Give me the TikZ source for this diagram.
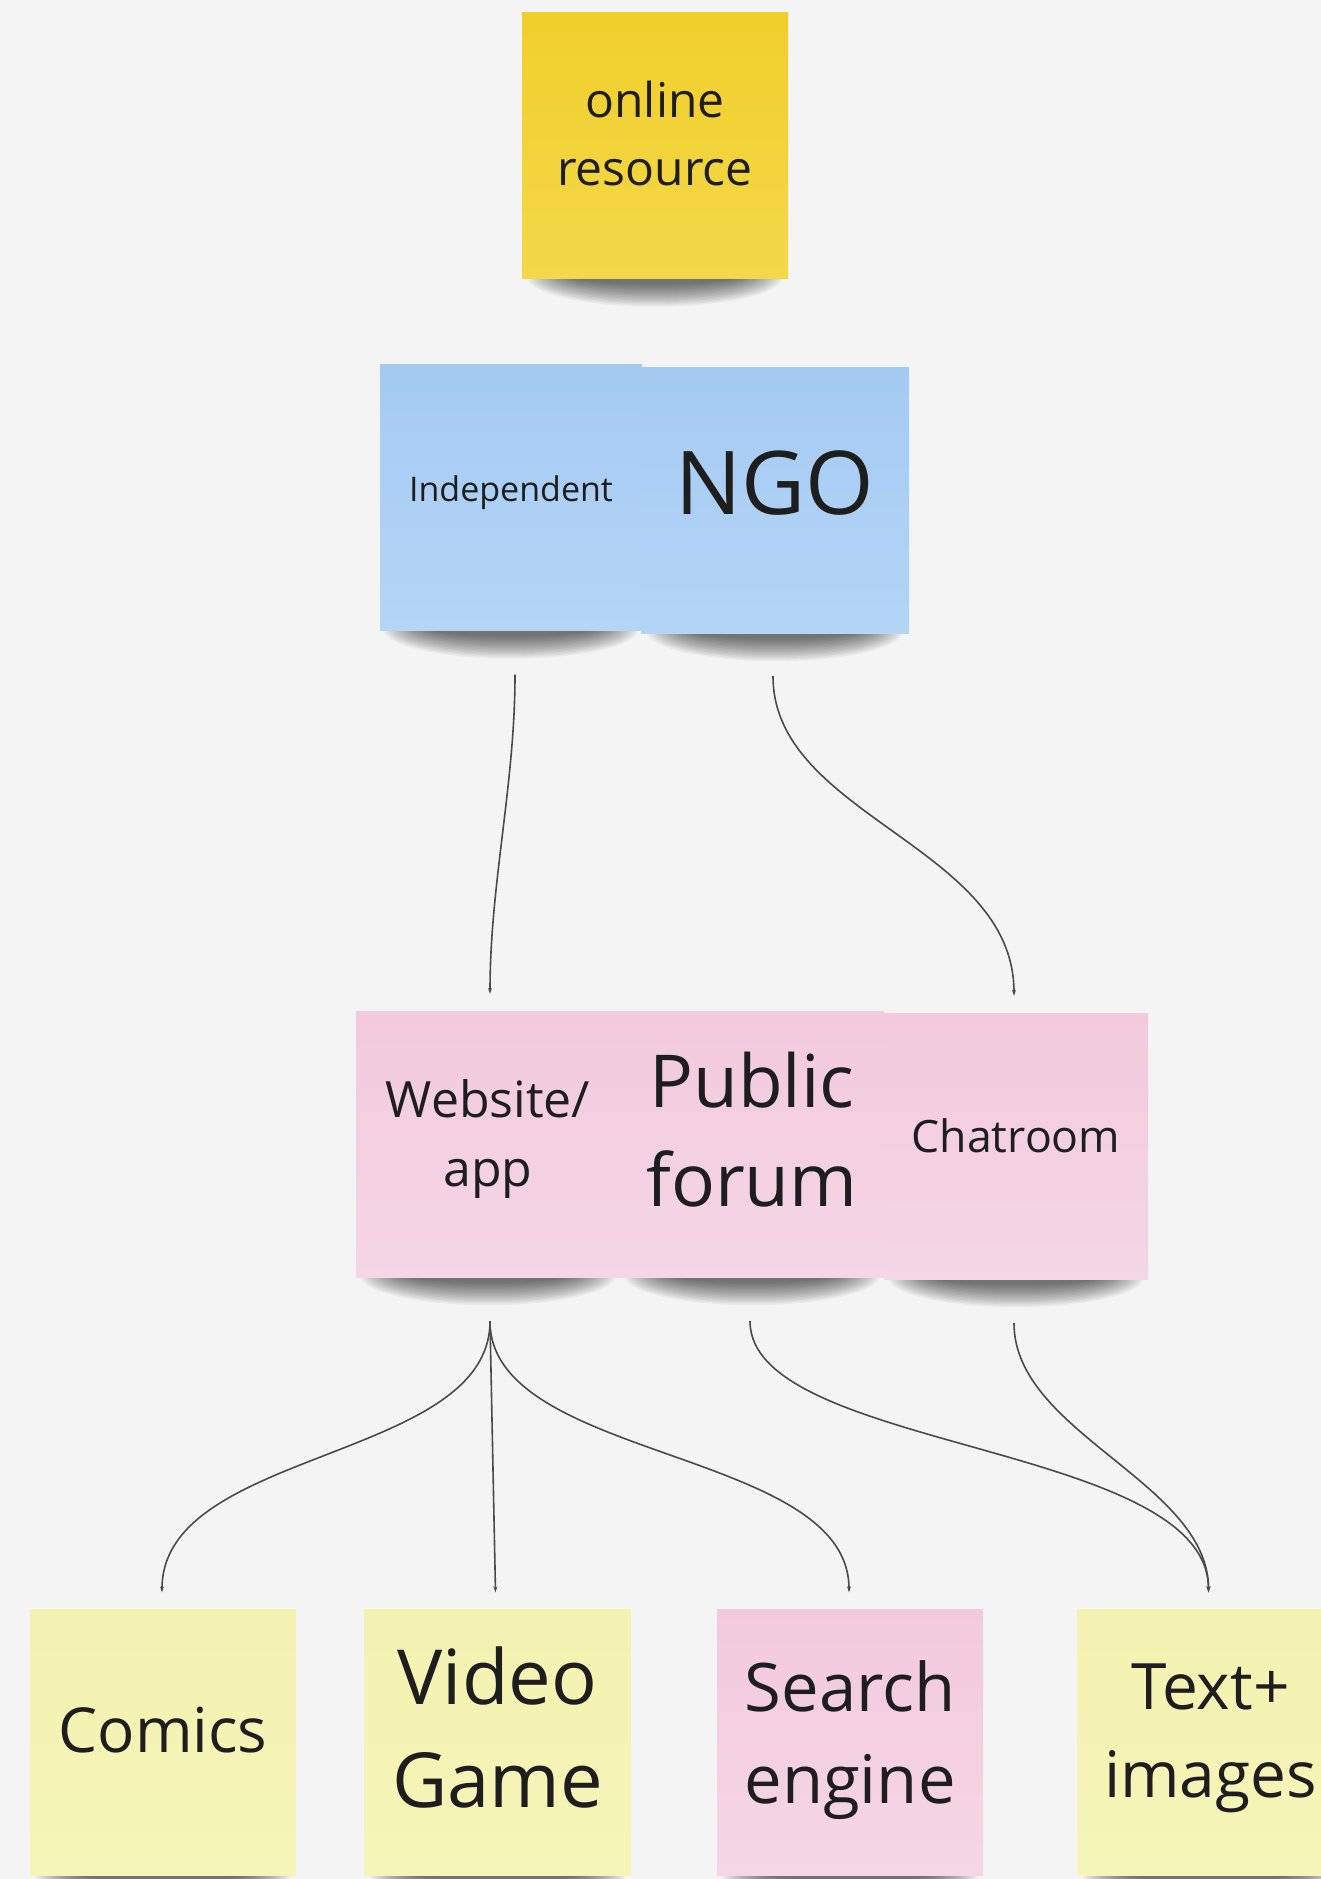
\documentclass[tikz,border=0pt]{standalone}
\usepackage{fontspec}
\setmainfont{Open Sans}
\usetikzlibrary{arrows.meta,calc}
\definecolor{bg}{HTML}{F4F4F4}
\definecolor{ytop}{HTML}{F0CE2B}
\definecolor{ybot}{HTML}{F3D849}
\definecolor{btop}{HTML}{A5CAF2}
\definecolor{bbot}{HTML}{B3D5F6}
\definecolor{ptop}{HTML}{F3CADD}
\definecolor{pbot}{HTML}{F4D6E5}
\definecolor{lytop}{HTML}{F4F2B1}
\definecolor{lybot}{HTML}{F5F5B9}
\definecolor{ink}{HTML}{1E1E1E}
\definecolor{wire}{HTML}{4A4A4A}
\tikzset{
  sticky/.style={minimum width=266pt, minimum height=266pt, inner sep=0pt, draw=none},
  yel/.style={sticky, top color=ytop, bottom color=ybot},
  blu/.style={sticky, top color=btop, bottom color=bbot},
  pnk/.style={sticky, top color=ptop, bottom color=pbot},
  lyl/.style={sticky, top color=lytop, bottom color=lybot},
  lbl/.style={align=center, text=ink, inner sep=0pt},
  wireline/.style={draw=wire, line width=1.6pt, -{Stealth[length=6pt,width=4pt]}},
}
\newcommand{\stickyshadow}[1]{%
  \foreach \i in {0,...,15}{%
    \fill[black, opacity=0.045] ($(#1.south)+(0,-2)$) ellipse [x radius={128-\i*3}, y radius={30-\i*1.5}];
  }%
}
\begin{document}
\begin{tikzpicture}[x=1pt,y=-1pt]
\fill[bg] (0,0) rectangle (1321,1879);
\useasboundingbox (0,0) rectangle (1321,1879);

% sticky positions (named, empty first so shadows can be drawn beneath)
\path (655,145.5) node[sticky] (online) {};
\path (511,497.5) node[sticky, minimum width=262pt] (indep) {};
\path (775,500) node[sticky, minimum width=268pt] (ngo) {};
\path (488,1144) node[sticky, minimum width=264pt] (web) {};
\path (752,1144) node[sticky, minimum width=264pt] (forum) {};
\path (1016,1146) node[sticky, minimum width=264pt] (chat) {};
\path (163,1742.5) node[sticky] (comics) {};
\path (497.5,1742.5) node[sticky] (video) {};
\path (850,1742.5) node[sticky] (search) {};
\path (1210.5,1742.5) node[sticky] (textimg) {};

% shadows
\stickyshadow{online}
\stickyshadow{indep}
\stickyshadow{ngo}
\stickyshadow{web}
\stickyshadow{forum}
\stickyshadow{chat}
\stickyshadow{comics}
\stickyshadow{video}
\stickyshadow{search}
\stickyshadow{textimg}

% sticky fills
\node[yel] at (online) {};
\node[blu, minimum width=262pt] at (indep) {};
\node[blu, minimum width=268pt] at (ngo) {};
\node[pnk, minimum width=264pt] at (web) {};
\node[pnk, minimum width=264pt] at (forum) {};
\node[pnk, minimum width=264pt] at (chat) {};
\node[lyl] at (comics) {};
\node[lyl] at (video) {};
\node[pnk] at (search) {};
\node[lyl] at (textimg) {};

% texts
\node[lbl, font=\fontsize{48}{68}\selectfont] (t-online) at ([yshift=12pt]online.center) {online\\resource};
\node[lbl, font=\fontsize{34}{44}\selectfont] (t-indep) at ([yshift=5pt]indep.center) {Independent};
\node[lbl, font=\fontsize{88}{110}\selectfont] (t-ngo) at ([yshift=17pt]ngo.center) {NGO};
\node[lbl, font=\fontsize{50}{69}\selectfont] (t-web) at ([yshift=5pt]web.center) {Website/\\app};
\node[lbl, font=\fontsize{73}{99}\selectfont] (t-forum) at ([yshift=14pt]forum.center) {Public\\forum};
\node[lbl, font=\fontsize{44.6}{60}\selectfont] (t-chat) at ([yshift=10pt]chat.center) {Chatroom};
\node[lbl, font=\fontsize{62}{84}\selectfont] (t-comics) at ([yshift=12pt]comics.center) {Comics};
\node[lbl, font=\fontsize{76}{103}\selectfont] (t-video) at ([yshift=15pt]video.center) {Video\\Game};
\node[lbl, font=\fontsize{67}{92}\selectfont] (t-search) at ([yshift=2pt]search.center) {Search\\engine};
\node[lbl, font=\fontsize{64}{87.5}\selectfont] (t-textimg) at ([yshift=4pt]textimg.center) {Text+\\images};

% connector end points
\coordinate (indep-out) at ([yshift=-44pt, xshift=4pt]indep.south);
\coordinate (ngo-out) at ([yshift=-43pt, xshift=-2pt]ngo.south);
\coordinate (web-in) at ([yshift=17pt, xshift=2pt]web.north);
\coordinate (chat-in) at ([yshift=17pt, xshift=-2pt]chat.north);
\coordinate (web-out) at ([yshift=-44pt, xshift=2pt]web.south);
\coordinate (forum-out) at ([yshift=-44pt, xshift=-2pt]forum.south);
\coordinate (chat-out) at ([yshift=-44pt, xshift=-2pt]chat.south);
\coordinate (comics-in) at ([yshift=17pt, xshift=-1pt]comics.north);
\coordinate (video-in) at ([yshift=17pt, xshift=-2pt]video.north);
\coordinate (search-in) at ([yshift=17pt, xshift=-1pt]search.north);
\coordinate (textimg-in) at ([yshift=17pt, xshift=-2pt]textimg.north);

% connectors
\draw[wireline] (indep-out) .. controls +(0,110) and +(0,-110) .. (web-in);
\draw[wireline] (ngo-out) .. controls +(0,140) and +(0,-150) .. (chat-in);
\draw[wireline] (web-out) .. controls +(0,140) and +(0,-144) .. (comics-in);
\draw[wireline] (web-out) -- (video-in);
\draw[wireline] (web-out) .. controls +(0,140) and +(0,-144) .. (search-in);
\draw[wireline] (forum-out) .. controls +(0,130) and +(0,-150) .. (textimg-in);
\draw[wireline] (chat-out) .. controls +(0,110) and +(0,-110) .. (textimg-in);
\end{tikzpicture}
\end{document}
